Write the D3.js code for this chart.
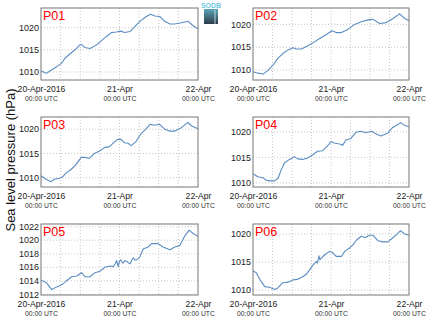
<!DOCTYPE html>
<html><head><meta charset="utf-8">
<script src="https://cdn.jsdelivr.net/npm/d3@7"></script>
<style>
body{margin:0;background:#fff}
svg{display:block;font-family:"Liberation Sans",Arial,Helvetica,sans-serif}
</style>
</head><body>
<svg id="chart" width="428" height="322"></svg>
<script>
// ---- data (hours after 20-Apr-2016 00:00 UTC, sea level pressure hPa) ----
const panelNames = ["P01","P02","P03","P04","P05","P06"];
const xTickHours = [0, 24, 48];
const xTickLabels = ["20-Apr-2016", "21-Apr", "22-Apr"];
const xTickSubLabels = ["00:00 UTC", "00:00 UTC", "00:00 UTC"];
const xGridHours = [6, 12, 18, 24, 30, 36, 42];

const p01Hours  = [0,1.7,3.3,4.8,6.3,7.3,8.9,10.4,11.9,12.4,13.4,15,17,19,20,21.6,23.1,24.3,25.6,27.2,28.7,30.2,32.2,33.5,34.8,36.3,37.8,39.4,40.9,42.9,45,46.5,48];
const p01Values = [1010.2,1009.7,1010.5,1011.2,1012,1013.1,1014.1,1015,1016.1,1016.2,1015.5,1015.3,1016.1,1017.4,1018,1018.9,1019,1019.2,1018.9,1019.1,1020.2,1021.4,1022.5,1023,1022.6,1022.5,1021.4,1020.8,1020.8,1021.1,1021.4,1020.4,1019.7];

const p02Hours  = [0,1.5,3.1,4.6,6.2,7.7,9.2,10.8,12.3,13.3,14.9,16.9,18.5,20.5,22.6,24.3,25.6,27.2,29.2,31.3,33.3,35.4,36.9,39,41,43.1,45.1,46.7,48];
const p02Values = [1009.6,1009.3,1009.1,1009.9,1011.1,1012.6,1013.6,1014.4,1014.9,1014.6,1014.6,1015.3,1016,1016.9,1017.8,1018.6,1018.2,1018.2,1018.9,1020,1020.6,1021,1021.1,1020.2,1020.4,1021.3,1022.3,1021.3,1020.8];

const p03Hours  = [0,1.5,3.1,4.1,5.6,6.6,7.7,9.2,10.7,12.3,13.3,14.8,16.3,17.9,19.4,20.9,22.5,23.5,24.5,25.5,26.6,27.6,29.1,30.6,32.2,33.4,34.7,36.3,37.8,39.3,40.9,42.9,44.9,45.9,48];
const p03Values = [1010.4,1009.7,1009.2,1009.7,1009.9,1010.2,1011,1011.7,1012.7,1014.2,1014.2,1014,1015,1015.5,1016.2,1016.4,1017.4,1017.9,1017.9,1017.2,1017.1,1016.6,1017.5,1019.1,1020.1,1021,1020.8,1021,1020,1019.6,1019.6,1020.3,1021.4,1020.7,1020.1];

const p04Hours  = [0,1.5,3.1,4.1,5.6,6.6,7.7,8.7,9.7,11.2,12.8,13.8,15.3,16.9,18.4,19.9,21.4,23,24,25,26.6,27.6,28.6,30.1,31.7,33.2,34.7,36.6,37.8,39.3,41.4,42.9,44.4,45.5,46.5,48];
const p04Values = [1011.8,1011.2,1011,1010.5,1010.4,1010.4,1010.9,1012.6,1013.9,1014.6,1015.1,1014.7,1014.6,1014.9,1015.5,1016.2,1016.3,1017.3,1018.1,1017.8,1017.6,1017.4,1018.4,1018.7,1019.9,1020.1,1019.8,1020.1,1019.6,1019.2,1019.7,1020.8,1021.4,1021.8,1021.3,1021];

const p05Hours  = [0,1.7,3.3,4.8,6.3,7.8,9.4,10.9,12.4,13.4,15,16.5,18,19.5,21.1,22.1,22.8,23.1,23.4,23.6,24,24.3,25.1,25.6,26.1,27.2,27.7,28.2,28.7,29.2,30.2,31.2,32.8,33.8,35.8,37.3,39.4,40.9,42.4,43.9,45.3,46.5,48];
const p05Values = [1014.1,1013.7,1012.7,1013.1,1013.4,1014,1014.6,1014.7,1015.2,1014.6,1014.6,1015.2,1015.4,1016,1016.2,1016.1,1016.6,1017,1016.5,1016.1,1016.9,1017.1,1016.6,1017,1016.9,1016.5,1017,1017.4,1017.1,1017.1,1017.5,1018.7,1019,1019.5,1019.5,1019,1018.6,1019,1019.2,1020.6,1021.5,1021,1020.6];

const p06Hours  = [0,1,2.1,3.6,5.1,6.7,7.7,9.2,10.8,12.3,13.8,15.4,16.4,17.4,18.5,19.2,19.5,19.8,20.1,20.3,20.6,21,22.1,23.6,24.4,25.6,27.2,28.2,29.7,30.8,31.8,33.3,34.4,35.9,36.9,38.5,40,41.5,43.6,45.4,46.7,48];
const p06Values = [1013.4,1013.1,1011.9,1010.6,1010.5,1010.1,1010.4,1011.3,1011.4,1011.8,1011.9,1012.4,1012.8,1013.6,1014.5,1014.9,1015.1,1014.8,1015.5,1016.1,1015.4,1015.7,1016.3,1016.9,1016.7,1016,1016,1016.9,1017.5,1018.1,1018.9,1019.6,1019.4,1019.8,1019.8,1018.8,1018.6,1018.6,1019.6,1020.6,1020,1019.8];

const yTicksStd = [1010, 1015, 1020];
const yTicksP05 = [1012, 1014, 1016, 1018, 1020, 1022];
const yDomainP01 = [1008.2, 1024.4];
const yDomainP02 = [1007.8, 1023.6];
const yDomainP03 = [1008.1, 1022.5];
const yDomainP04 = [1009.2, 1022.9];
const yDomainP05 = [1011.9, 1022.4];
const yDomainP06 = [1009.1, 1021.8];
const yLabel = "Sea level pressure (hPa)";

// ---- layout ----
const colLeft = [41, 253], colRight = [198, 409];
const rowTop = [8, 117, 224], rowBottom = [80, 187, 295];
const lineColor = "#5b8dc2";

const panels = [
  {name: panelNames[0], h: p01Hours, v: p01Values, dom: yDomainP01, ticks: yTicksStd},
  {name: panelNames[1], h: p02Hours, v: p02Values, dom: yDomainP02, ticks: yTicksStd},
  {name: panelNames[2], h: p03Hours, v: p03Values, dom: yDomainP03, ticks: yTicksStd},
  {name: panelNames[3], h: p04Hours, v: p04Values, dom: yDomainP04, ticks: yTicksStd},
  {name: panelNames[4], h: p05Hours, v: p05Values, dom: yDomainP05, ticks: yTicksP05},
  {name: panelNames[5], h: p06Hours, v: p06Values, dom: yDomainP06, ticks: yTicksStd}
];

const svg = d3.select("#chart");
const t0 = Date.UTC(2016, 3, 20);
const toDate = h => new Date(t0 + h * 3600e3);

panels.forEach((p, i) => {
  const col = i % 2, row = Math.floor(i / 2);
  const L = colLeft[col], R = colRight[col], T = rowTop[row], B = rowBottom[row];
  const x = d3.scaleUtc().domain([toDate(0), toDate(48)]).range([L, R]);
  const y = d3.scaleLinear().domain(p.dom).range([B, T]);
  const g = svg.append("g");

  // grid
  g.selectAll(".vg").data(xGridHours).join("line")
    .attr("x1", d => x(toDate(d))).attr("x2", d => x(toDate(d)))
    .attr("y1", T).attr("y2", B)
    .attr("stroke", "#b8b8b8").attr("stroke-width", 0.8).attr("stroke-dasharray", "1,2");
  g.selectAll(".hg").data(p.ticks).join("line")
    .attr("x1", L).attr("x2", R)
    .attr("y1", d => y(d)).attr("y2", d => y(d))
    .attr("stroke", "#b8b8b8").attr("stroke-width", 0.8).attr("stroke-dasharray", "1,2");

  // line
  const data = p.h.map((h, k) => ({t: toDate(h), v: p.v[k]}));
  g.append("path").datum(data)
    .attr("fill", "none").attr("stroke", lineColor).attr("stroke-width", 1.1)
    .attr("stroke-linejoin", "round")
    .attr("d", d3.line().x(d => x(d.t)).y(d => y(d.v)));

  // box
  g.append("rect").attr("x", L).attr("y", T).attr("width", R - L).attr("height", B - T)
    .attr("fill", "none").attr("stroke", "#777").attr("stroke-width", 1);

  // y axis
  const ya = g.append("g").attr("transform", `translate(${L},0)`)
    .call(d3.axisLeft(y).tickValues(p.ticks).tickSize(0).tickPadding(2).tickFormat(d3.format("d")));
  ya.select(".domain").remove();
  ya.selectAll("text").attr("font-size", 9).attr("fill", "#222").attr("font-family", null)
    .attr("dy", "0.3em");

  // x axis
  const xa = g.append("g").attr("transform", `translate(0,${B})`)
    .call(d3.axisBottom(x).tickValues(xTickHours.map(toDate)).tickSize(0).tickPadding(0).tickFormat(() => ""));
  xa.select(".domain").remove();
  xa.selectAll(".tick text").remove();
  xa.selectAll(".tick").each(function(d, k) {
    const tk = d3.select(this);
    tk.append("text").attr("y", 12).attr("text-anchor", "middle")
      .attr("font-size", 8.6).attr("fill", "#222").text(xTickLabels[k]);
    tk.append("text").attr("y", 21).attr("text-anchor", "middle")
      .attr("font-size", 6.8).attr("fill", "#333").text(xTickSubLabels[k]);
  });

  // panel name
  g.append("text").attr("x", L + 2).attr("y", T + 12)
    .attr("font-size", 12.5).attr("fill", "#ff0000").text(p.name);
});

// y label
svg.append("text").attr("transform", "translate(15,160) rotate(-90)")
  .attr("text-anchor", "middle").attr("font-size", 13).attr("fill", "#111").text(yLabel);

// logo
const defs = svg.append("defs");
const grad = defs.append("linearGradient").attr("id", "lg").attr("x1", 0).attr("y1", 0).attr("x2", 0).attr("y2", 1);
grad.append("stop").attr("offset", 0).attr("stop-color", "#5aa7b8");
grad.append("stop").attr("offset", 1).attr("stop-color", "#2b3b49");
const logo = svg.append("g");
logo.append("rect").attr("x", 204).attr("y", 9).attr("width", 14).attr("height", 15).attr("fill", "url(#lg)");
logo.append("line").attr("x1", 215).attr("x2", 215).attr("y1", 10).attr("y2", 24).attr("stroke", "#d9eef2").attr("stroke-width", 0.8);
logo.append("text").attr("x", 211).attr("y", 8).attr("text-anchor", "middle")
  .attr("font-size", 7).attr("font-weight", "bold").attr("fill", "#6fc8dc").text("SODB");
</script>
</body></html>
